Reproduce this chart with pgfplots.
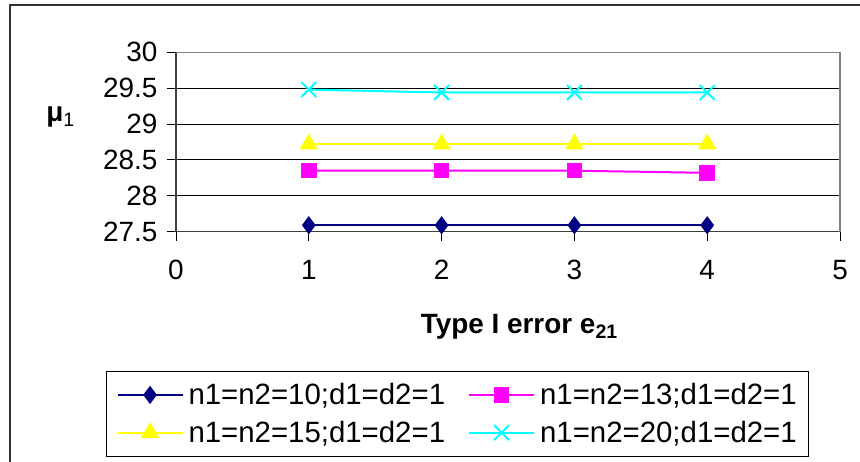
\documentclass[border=0pt]{standalone}
\usepackage{pgfplots}
\pgfplotsset{compat=1.18}
\usepackage{fontspec}
\setmainfont{Liberation Sans}

\definecolor{serNavy}{RGB}{0,0,128}
\definecolor{serMagenta}{RGB}{255,0,255}
\definecolor{serYellow}{RGB}{255,255,0}
\definecolor{serCyan}{RGB}{0,255,255}

\begin{document}
\begin{tikzpicture}[x=1bp,y=1bp]
\useasboundingbox (0,0) rectangle (860,462);
\fill[white] (0,0) rectangle (860,462);
% chart frame
\draw[line width=1.5bp, black!80] (10,-20) -- (10,457) -- (880,457);
\begin{axis}[
  at={(176bp,230.3bp)}, anchor=south west,
  scale only axis, width=664bp, height=179.4bp,
  xmin=0, xmax=5, ymin=27.5, ymax=30,
  xtick={0,1,2,3,4,5},
  ytick={27.5,28,28.5,29,29.5,30},
  yticklabels={27.5,28,28.5,29,29.5,30},
  axis lines=left,
  axis line style={-, black!75, line width=1.5bp},
  tick align=outside,
  major tick length=9bp,
  tick style={black, line width=1bp},
  ymajorgrids,
  grid style={black, line width=0.9bp},
  /pgf/number format/assume math mode=true,
  tick label style={font=\fontsize{28}{32}\selectfont},
  xticklabel style={yshift=-16bp},
  yticklabel style={xshift=-6bp},
  xlabel={\textbf{Type I error e\textsubscript{21}}},
  xlabel style={at={(axis description cs:0.517,-0.531)}, anchor=center,
    font=\fontsize{28}{32}\selectfont},
  ylabel={\textbf{μ}\textsubscript{1}},
  ylabel style={at={(axis description cs:-0.174,0.64)}, rotate=-90, anchor=center,
    font=\fontsize{28}{32}\selectfont},
  clip=false,
  legend columns=2,
  legend cell align=left,
  legend image code/.code={%
    \draw[#1, mark repeat=2, mark phase=2]
      plot coordinates {(0bp,0bp) (32.5bp,0bp) (65bp,0bp)};},
  legend style={
    at={(axis description cs:-0.1054,-0.7765)}, anchor=north west,
    draw=black, line width=1bp,
    font=\fontsize{29.5}{33}\selectfont,
    inner xsep=10bp, inner ysep=10bp,
    row sep=11bp,
    /tikz/every odd column/.append style={column sep=3bp},
    /tikz/every even column/.append style={column sep=21bp},
  },
]
\draw[gray, line width=1.5bp] (rel axis cs:0,1) -- (rel axis cs:1,1) -- (rel axis cs:1,0);

\addplot[serNavy, line width=2bp, mark=diamond*, mark size=7.5bp,
  mark options={solid, fill=serNavy}]
  coordinates {(1,27.59) (2,27.59) (3,27.59) (4,27.59)};
\addlegendentry{n1=n2=10;d1=d2=1}

\addplot[serMagenta, line width=2bp, mark=square*, mark size=6.8bp,
  mark options={solid, fill=serMagenta}]
  coordinates {(1,28.35) (2,28.35) (3,28.35) (4,28.32)};
\addlegendentry{n1=n2=13;d1=d2=1}

\addplot[serYellow, line width=2bp, mark=triangle*, mark size=8.7bp,
  mark options={solid, fill=serYellow}]
  coordinates {(1,28.72) (2,28.72) (3,28.72) (4,28.72)};
\addlegendentry{n1=n2=15;d1=d2=1}

\addplot[serCyan, line width=2bp, mark=x, mark size=10.5bp,
  mark options={solid, line width=2bp}]
  coordinates {(1,29.48) (2,29.44) (3,29.44) (4,29.44)};
\addlegendentry{n1=n2=20;d1=d2=1}
\end{axis}
\end{tikzpicture}
\end{document}
